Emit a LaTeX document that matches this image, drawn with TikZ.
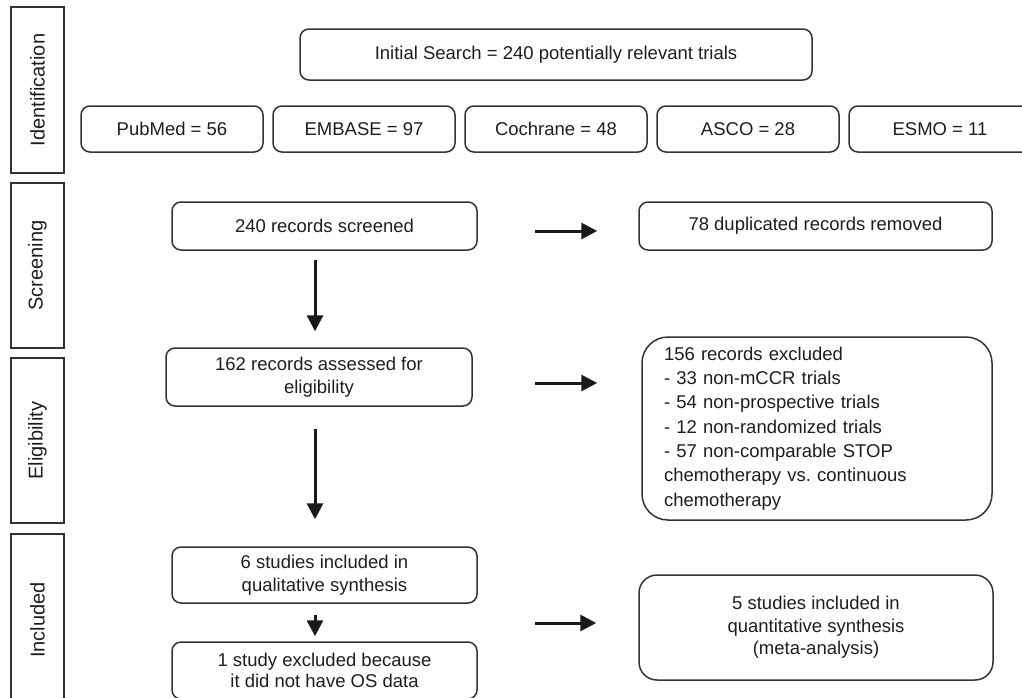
\documentclass[tikz,border=0pt]{standalone}
\usepackage{fontspec}
\setmainfont{Liberation Sans}
\frenchspacing
\usetikzlibrary{arrows.meta}
\definecolor{txt}{HTML}{1E1E1E}
\definecolor{ln}{HTML}{333333}
\definecolor{ar}{HTML}{1A1A1A}
\begin{document}
\begin{tikzpicture}[x=1pt,y=-1pt,
 every node/.style={font=\fontsize{18.5}{22.5}\selectfont, text=txt},
 rbox/.style={draw=ln, line width=1.5pt, rounded corners=9pt, inner sep=0pt, align=center},
 side/.style={draw=ln, line width=1.5pt, inner sep=0pt, rotate=90, minimum height=53pt, font=\fontsize{20}{24}\selectfont},
 arr/.style={draw=ar, line width=3pt, -{Triangle[length=16pt,width=16pt]}}]
\useasboundingbox (0,0) rectangle (1022,697);
\clip (0,0) rectangle (1022,697);
% side stage labels
\node[side, minimum width=166pt] (ident) at (37.5,90) {Identification};
\node[side, minimum width=165pt] (screen) at (37.5,265.5) {Screening};
\node[side, minimum width=165pt] (elig) at (37.5,440.5) {Eligibility};
\node[side, minimum width=172pt] (incl) at (37.5,620) {Included};
% identification
\node[rbox, minimum width=512pt, minimum height=51pt] (init) at (556,54.5) {Initial Search = 240 potentially relevant trials};
\node[rbox, minimum width=182pt, minimum height=46pt] (pubmed) at (172,129) {PubMed = 56};
\node[rbox, minimum width=182pt, minimum height=46pt] (embase) at (364,129) {EMBASE = 97};
\node[rbox, minimum width=182pt, minimum height=46pt] (cochrane) at (556,129) {Cochrane = 48};
\node[rbox, minimum width=182pt, minimum height=46pt] (asco) at (748,129) {ASCO = 28};
\node[rbox, minimum width=182pt, minimum height=46pt] (esmo) at (940,129) {ESMO = 11};
% screening
\node[rbox, minimum width=305pt, minimum height=48pt] (s240) at (324.5,226) {240 records screened};
\node[rbox, minimum width=353pt, minimum height=48pt] (dup) at (815.5,226) {78 duplicated records removed};
% eligibility
\node[rbox, minimum width=306pt, minimum height=58pt] (s162) at (319,377) {162 records assessed for\\eligibility};
\node[rbox, rounded corners=26pt, minimum width=350pt, minimum height=183pt, text width=306pt, align=left,
      font=\fontsize{18.5}{24.3}\selectfont] (excl) at (817,428.5)
 {156 records excluded\\- 33 non-mCCR trials\\- 54 non-prospective trials\\- 12 non-randomized trials\\- 57 non-comparable STOP\\chemotherapy vs. continuous\\chemotherapy};
% included
\node[rbox, minimum width=305pt, minimum height=56pt] (s6) at (324.5,575) {6 studies included in\\qualitative synthesis};
\node[rbox, minimum width=305pt, minimum height=57pt, font=\fontsize{18.5}{21}\selectfont] (s1) at (324.5,670.5) {1 study excluded because\\it did not have OS data};
\node[rbox, rounded corners=18pt, minimum width=354pt, minimum height=105pt] (s5) at (816,627.5) {5 studies included in\\quantitative synthesis\\(meta-analysis)};
% arrows
\draw[arr] ([xshift=-9.5pt,yshift=-9pt]s240.south) -- ([xshift=-4pt,yshift=16pt]s162.north);
\draw[arr] ([xshift=-4pt,yshift=-22pt]s162.south) -- ([xshift=-9.5pt,yshift=27pt]s6.north);
\draw[arr] ([xshift=-9.5pt,yshift=-11pt]s6.south) -- ([xshift=-9.5pt,yshift=5pt]s1.north);
\draw[arr] ([xshift=57pt,yshift=-5pt]s240.east) -- ([xshift=-41pt,yshift=-5pt]dup.west);
\draw[arr] ([xshift=62pt,yshift=-6pt]s162.east) -- ([xshift=-44pt,yshift=45.5pt]excl.west);
\draw[arr] ([xshift=57pt,yshift=-48pt]s6.east) -- ([xshift=-42pt,yshift=4.5pt]s5.west);
\end{tikzpicture}
\end{document}
